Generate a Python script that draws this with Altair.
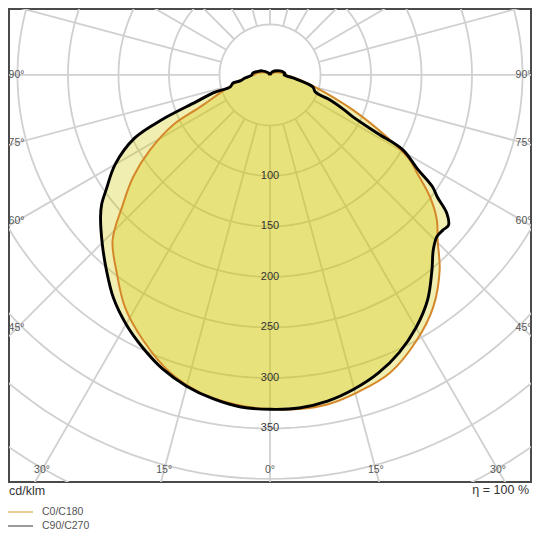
import altair as alt
import pandas as pd

# ---- photometric data (cd/klm) ----
# C0/C180 plane (orange): left half = C180, right half = C0
c180_angle = [0, 6, 12.4, 18.5, 25.6, 32, 37.7, 43.6, 48.3, 53.3, 58, 62.7, 65.4, 73, 80, 90, 100, 120, 180]
c180_value = [331, 328, 322, 311, 291, 271, 248, 226, 196, 169, 140, 108, 76, 44, 30, 16, 12, 5, 0]
c0_angle = [0, 5, 10, 15.3, 21.9, 29, 35.1, 41, 45.2, 49.2, 52.7, 56.3, 58.7, 62, 67.1, 74.5, 80, 90, 100, 120, 180]
c0_value = [331, 332, 331, 326, 318, 300, 281, 256, 234, 218, 199, 175, 162, 131, 89, 48, 32, 16, 12, 5, 0]

# C90/C270 plane (black): left half = C270, right half = C90
c270_angle = [0, 5, 10, 15, 20, 25, 30, 35, 40, 45, 50, 52.5, 55, 60, 65, 67.5, 70, 72.5,
              73.3, 77.8, 78.7, 83, 90, 96.7, 105, 117, 140, 180]
c270_value = [331, 330, 325.5, 319, 310, 298, 285, 270, 252, 235, 219, 210, 198, 177, 148, 116, 78, 59,
              41, 37.5, 30, 25, 18, 17, 13, 9, 3, 0]
c90_angle = [0, 5, 10, 15, 20, 25, 30, 35, 39.7, 43, 45.9, 48.1, 49.9, 52, 53.9, 55.5, 57.5, 60.6, 61.5,
             63.2, 65, 67.4, 69.3, 74.4, 82.6, 90, 94, 100, 112, 146, 180]
c90_value = [331, 331, 328, 322, 314, 303, 289, 272, 251, 237, 230, 230, 231, 222, 205, 195, 173, 151, 121,
             92, 80, 64, 48, 44, 23, 14, 15, 14, 10.7, 3.6, 0]

# ---- grid / labels ----
ring_values = [50, 100, 150, 200, 250, 300, 350, 400, 450]
ring_label_values = [100, 150, 200, 250, 300, 350]
spoke_angles = list(range(0, 360, 15))
side_label_angles = [45, 60, 75, 90]
bottom_label_angles = [0, 15, 30]
legend_labels = ["C0/C180", "C90/C270"]
unit_label = "cd/klm"
eta_label = "η = 100 %"

FONT = "Liberation Sans"
XMIN, XMAX = -258.4, 258.4
YMIN, YMAX = -403.0, 65.3

xs = alt.Scale(domain=[XMIN, XMAX], nice=False, zero=False)
ys = alt.Scale(domain=[YMIN, YMAX], nice=False, zero=False)
X = alt.X("px:Q", scale=xs, axis=None)
Y = alt.Y("py:Q", scale=ys, axis=None)


def half(series, angles, values, sign):
    return pd.DataFrame({"series": series,
                         "gamma": [sign * a for a in angles],
                         "value": values})


curves = pd.concat([
    half("C0/C180", c180_angle, c180_value, -1),
    half("C0/C180", c0_angle, c0_value, 1),
    half("C90/C270", c270_angle, c270_value, -1),
    half("C90/C270", c90_angle, c90_value, 1),
], ignore_index=True).drop_duplicates(subset=["series", "gamma"])

polar = dict(px="datum.value * sin(datum.gamma * PI / 180)",
             py="-datum.value * cos(datum.gamma * PI / 180)")

# rings
ring_df = pd.DataFrame([(r, a) for r in ring_values for a in range(0, 362, 2)],
                       columns=["value", "gamma"])
rings = alt.Chart(ring_df).transform_calculate(**polar).mark_line(
    clip=True, color="#d0d0d0", strokeWidth=1.8
).encode(x=X, y=Y, detail="value:N", order="gamma:Q")

# spokes
spoke_df = pd.DataFrame({"gamma": spoke_angles})
spokes = alt.Chart(spoke_df).transform_calculate(
    px="50 * sin(datum.gamma * PI / 180)",
    py="-50 * cos(datum.gamma * PI / 180)",
    px2="800 * sin(datum.gamma * PI / 180)",
    py2="-800 * cos(datum.gamma * PI / 180)",
).mark_rule(clip=True, color="#d0d0d0", strokeWidth=1.8).encode(
    x=X, y=Y, x2="px2:Q", y2="py2:Q")

# fills
fills = alt.Chart(curves).transform_calculate(**polar).mark_line(
    fill="#d0c800", fillOpacity=0.3, strokeOpacity=0, strokeWidth=0, interpolate="catmull-rom"
).encode(x=X, y=Y, detail="series:N", order="gamma:Q")

orange = alt.Chart(curves).transform_filter(alt.datum.series == "C0/C180").transform_calculate(
    **polar).mark_line(color="#d4882a", strokeWidth=2, interpolate="catmull-rom").encode(
    x=X, y=Y, order="gamma:Q")

black = alt.Chart(curves).transform_filter(alt.datum.series == "C90/C270").transform_calculate(
    **polar).mark_line(color="#000000", strokeWidth=2.9, strokeJoin="round",
                       interpolate="catmull-rom").encode(x=X, y=Y, order="gamma:Q")

# ring labels
rl_df = pd.DataFrame({"value": ring_label_values})
ring_labels = alt.Chart(rl_df).transform_calculate(
    px="0", py="-datum.value", lab="datum.value + ''"
).mark_text(font=FONT, fontSize=11, color="#333333", baseline="middle", align="center").encode(
    x=X, y=Y, text="lab:N")

# side angle labels (left & right)
side_df = pd.DataFrame({"ang": side_label_angles})
left_lab = alt.Chart(side_df).transform_calculate(
    px="-251", py="-251 * cos(datum.ang * PI / 180) / sin(datum.ang * PI / 180)",
    lab="datum.ang + '°'"
).mark_text(font=FONT, fontSize=10.5, color="#555555", baseline="middle", align="center").encode(
    x=X, y=Y, text="lab:N")
right_lab = alt.Chart(side_df).transform_calculate(
    px="251", py="-251 * cos(datum.ang * PI / 180) / sin(datum.ang * PI / 180)",
    lab="datum.ang + '°'"
).mark_text(font=FONT, fontSize=10.5, color="#555555", baseline="middle", align="center").encode(
    x=X, y=Y, text="lab:N")

bot_df = pd.DataFrame({"ang": bottom_label_angles})
bl_left = alt.Chart(bot_df).transform_calculate(
    px="-391 * tan(datum.ang * PI / 180)", py="-391", lab="datum.ang + '°'"
).mark_text(font=FONT, fontSize=10.5, color="#555555", baseline="middle", align="center").encode(
    x=X, y=Y, text="lab:N")
bl_right = alt.Chart(bot_df).transform_filter("datum.ang > 0").transform_calculate(
    px="391 * tan(datum.ang * PI / 180)", py="-391", lab="datum.ang + '°'"
).mark_text(font=FONT, fontSize=10.5, color="#555555", baseline="middle", align="center").encode(
    x=X, y=Y, text="lab:N")

# texts under the frame
unit_txt = alt.Chart(pd.DataFrame({"t": [unit_label]})).mark_text(
    font=FONT, fontSize=12.5, color="#333333", align="left", baseline="middle"
).encode(text="t:N", x=alt.value(0), y=alt.value(482))
eta_txt = alt.Chart(pd.DataFrame({"t": [eta_label]})).mark_text(
    font=FONT, fontSize=12.5, color="#333333", align="right", baseline="middle"
).encode(text="t:N", x=alt.value(520), y=alt.value(481))

leg1_line = alt.Chart(pd.DataFrame({"t": [legend_labels[0]]})).mark_rule(
    color="#e0a850", strokeWidth=1.2
).encode(x=alt.value(-1), x2=alt.value(24), y=alt.value(503))
leg2_line = alt.Chart(pd.DataFrame({"t": [legend_labels[1]]})).mark_rule(
    color="#9a9a9a", strokeWidth=2
).encode(x=alt.value(-1), x2=alt.value(24), y=alt.value(517))
leg1_txt = alt.Chart(pd.DataFrame({"t": [legend_labels[0]]})).mark_text(
    font=FONT, fontSize=10.5, color="#555555", align="left", baseline="middle"
).encode(text="t:N", x=alt.value(33), y=alt.value(503))
leg2_txt = alt.Chart(pd.DataFrame({"t": [legend_labels[1]]})).mark_text(
    font=FONT, fontSize=10.5, color="#555555", align="left", baseline="middle"
).encode(text="t:N", x=alt.value(33), y=alt.value(517))

chart = alt.layer(
    rings, spokes, fills, orange, black, ring_labels,
    left_lab, right_lab, bl_left, bl_right,
    unit_txt, eta_txt, leg1_line, leg2_line, leg1_txt, leg2_txt
).properties(
    width=522, height=473, autosize="none",
    padding={"left": 1, "top": 1, "right": 1, "bottom": 51}
).configure_view(stroke="#4a4a4a", strokeWidth=2)

chart.save("out.html", embed_options={"renderer": "svg", "actions": False})
